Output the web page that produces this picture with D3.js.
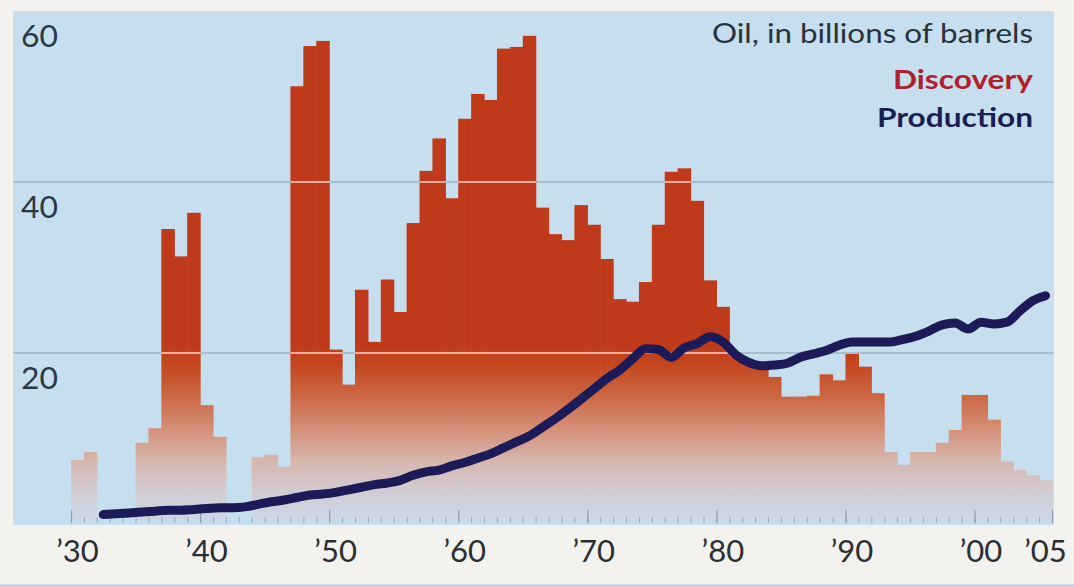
<!DOCTYPE html>
<html>
<head>
<meta charset="utf-8">
<script src="https://cdn.jsdelivr.net/npm/d3@7"></script>
<style>
  body { margin: 0; background: #f4f2ee; }
  svg { display: block; }
</style>
</head>
<body>
<div id="chart"></div>
<script>
// Descubrimientos y producción de petróleo, miles de millones de barriles

const firstYear = 1930;
const lastYear = 2005;
const years = d3.range(firstYear, lastYear + 1);

// 1930 .. 2005, 0 = sin barra
const discovery = [
  7.5, 8.4, 0, 0, 0, 9.5, 11.2, 34.5, 31.3, 36.4,
  13.9, 10.2, 0, 0, 7.8, 8.1, 6.7, 51.2, 55.9, 56.5,
  20.4, 16.3, 27.4, 21.3, 28.6, 24.8, 35.2, 41.3, 45.1, 38.1,
  47.4, 50.3, 49.6, 55.6, 55.8, 57.1, 37.0, 33.9, 33.2, 37.3,
  35.0, 31.0, 26.3, 26.0, 28.3, 35.0, 41.2, 41.6, 37.8, 28.5,
  25.4, 19.6, 19.0, 18.6, 17.2, 14.9, 14.9, 15.0, 17.5, 16.8,
  20.0, 18.4, 15.3, 8.4, 6.9, 8.4, 8.4, 9.5, 11.0, 15.1,
  15.1, 12.2, 7.3, 6.3, 5.7, 5.1
];

// 1932 .. 2005
const productionStart = 1932;
const production = [
  1.1, 1.2, 1.3, 1.4, 1.5, 1.6, 1.6, 1.7, 1.8, 1.9,
  1.9, 2.0, 2.3, 2.6, 2.8, 3.1, 3.4, 3.5, 3.7, 4.0,
  4.3, 4.6, 4.8, 5.1, 5.7, 6.1, 6.3, 6.8, 7.2, 7.7,
  8.2, 8.9, 9.6, 10.3, 11.3, 12.3, 13.4, 14.6, 15.8, 17.0,
  18.0, 19.3, 20.5, 20.4, 19.5, 20.6, 21.1, 21.9, 21.3, 19.8,
  18.9, 18.5, 18.6, 18.8, 19.5, 19.9, 20.3, 20.9, 21.3, 21.3,
  21.3, 21.3, 21.6, 22.0, 22.6, 23.3, 23.5, 22.8, 23.6, 23.4,
  23.6, 24.9, 26.1, 26.7
];

const yTicks = [20, 40, 60];
const gridValues = [20, 40];
const labelYears = [1930, 1940, 1950, 1960, 1970, 1980, 1990, 2000, 2005];
const decadeYears = [1930, 1940, 1950, 1960, 1970, 1980, 1990, 2000];

const fontFamily = "Lato, 'Open Sans', sans-serif";

function renderChart() {
    const width = 1074;
    const height = 587;
    const panel = { left: 13, right: 1054, top: 11, bottom: 525 };

    const svg = d3.select('#chart').append('svg')
        .attr('width', width)
        .attr('height', height);

    // Escalas
    const x = d3.scaleBand()
        .domain(years)
        .range([71, 1052])
        .padding(0);

    const xEdge = d3.scaleLinear()
        .domain([firstYear, lastYear + 1])
        .range([71, 1052]);

    const y = d3.scaleLinear()
        .domain([0, 60])
        .range([524, 11]);

    const defs = svg.append('defs');

    // Degradado de las barras
    const grad = defs.append('linearGradient')
        .attr('id', 'barGrad')
        .attr('gradientUnits', 'userSpaceOnUse')
        .attr('x1', 0).attr('x2', 0)
        .attr('y1', y(21)).attr('y2', y(0));
    [
        [0, '#bf3a1b'],
        [0.12, '#c4481f'],
        [0.3, '#cc6a47'],
        [0.48, '#d4927b'],
        [0.65, '#d6b7ae'],
        [0.82, '#d2ccd3'],
        [1, '#c9dbe9']
    ].forEach(([o, c]) => grad.append('stop').attr('offset', o).attr('stop-color', c));

    const barData = years.map((yr, i) => ({ year: yr, value: discovery[i] }))
        .filter(d => d.value > 0);

    const clip = defs.append('clipPath').attr('id', 'barClip');
    clip.selectAll('rect')
        .data(barData)
        .enter()
        .append('rect')
        .attr('x', d => x(d.year))
        .attr('y', d => y(d.value))
        .attr('width', x.bandwidth() + 0.6)
        .attr('height', d => y(0) - y(d.value));

    // Fondo
    svg.append('rect')
        .attr('x', panel.left)
        .attr('y', panel.top)
        .attr('width', panel.right - panel.left)
        .attr('height', panel.bottom - panel.top)
        .attr('fill', '#c7deee');

    // Líneas de referencia
    svg.append('g')
        .selectAll('line')
        .data(gridValues)
        .enter()
        .append('line')
        .attr('x1', panel.left)
        .attr('x2', panel.right)
        .attr('y1', d => y(d))
        .attr('y2', d => y(d))
        .attr('stroke', '#8f9eae')
        .attr('stroke-width', 1.2);

    // Barras
    svg.append('g')
        .selectAll('rect')
        .data(barData)
        .enter()
        .append('rect')
        .attr('x', d => x(d.year))
        .attr('y', d => y(d.value))
        .attr('width', x.bandwidth() + 0.6)
        .attr('height', d => y(0) - y(d.value))
        .attr('fill', 'url(#barGrad)');

    // Líneas claras sobre las barras
    svg.append('g')
        .attr('clip-path', 'url(#barClip)')
        .selectAll('line')
        .data(gridValues)
        .enter()
        .append('line')
        .attr('x1', panel.left)
        .attr('x2', panel.right)
        .attr('y1', d => y(d))
        .attr('y2', d => y(d))
        .attr('stroke', '#f6d6cc')
        .attr('stroke-width', 1.4);

    // Marcas de años
    const minor = svg.append('g')
        .attr('transform', `translate(0, ${panel.bottom - 2})`)
        .call(d3.axisTop(xEdge).tickValues(d3.range(firstYear, lastYear + 2)).tickSize(6).tickFormat(''));
    const major = svg.append('g')
        .attr('transform', `translate(0, ${panel.bottom - 2})`)
        .call(d3.axisTop(xEdge).tickValues(decadeYears.concat([2006])).tickSize(13).tickFormat(''));
    svg.selectAll('.domain').remove();
    minor.selectAll('.tick line').attr('stroke', '#97a7ba').attr('stroke-width', 1);
    major.selectAll('.tick line').attr('stroke', '#8e9fb3').attr('stroke-width', 1.2);

    // Producción
    const prodData = production.map((v, i) => ({ year: productionStart + i, value: v }));
    const line = d3.line()
        .x(d => x(d.year) + x.bandwidth() / 2)
        .y(d => y(d.value))
        .curve(d3.curveMonotoneX);

    svg.append('path')
        .datum(prodData)
        .attr('d', line)
        .attr('fill', 'none')
        .attr('stroke', '#1c1b58')
        .attr('stroke-width', 9)
        .attr('stroke-linejoin', 'round')
        .attr('stroke-linecap', 'round');

    // Eje Y (etiquetas dentro del panel)
    svg.append('g')
        .selectAll('text')
        .data(yTicks)
        .enter()
        .append('text')
        .attr('x', 21)
        .attr('y', d => y(d) + 36)
        .attr('fill', '#2b3945')
        .attr('font-family', fontFamily)
        .attr('font-size', '30px')
        .attr('textLength', 37)
        .attr('lengthAdjust', 'spacingAndGlyphs')
        .text(d => d);

    // Eje X
    const xAxis = svg.append('g')
        .attr('transform', `translate(0, ${panel.bottom})`)
        .call(d3.axisBottom(x).tickValues(labelYears).tickSize(0)
            .tickFormat(d => '\u2019' + String(d).slice(2)));
    xAxis.select('.domain').remove();
    xAxis.selectAll('text')
        .attr('dy', null)
        .attr('y', 37)
        .attr('fill', '#2b2f33')
        .attr('font-family', fontFamily)
        .attr('font-size', '31px');

    // Leyenda
    const legend = svg.append('g')
        .attr('text-anchor', 'end')
        .attr('font-family', fontFamily);

    legend.append('text')
        .attr('x', 1033)
        .attr('y', 43)
        .attr('fill', '#27323d')
        .attr('font-size', '26px')
        .attr('textLength', 321)
        .attr('lengthAdjust', 'spacingAndGlyphs')
        .text('Oil, in billions of barrels');

    legend.append('text')
        .attr('x', 1033)
        .attr('y', 89)
        .attr('fill', '#b01f2d')
        .attr('font-size', '26px')
        .attr('font-weight', 'bold')
        .attr('textLength', 140)
        .attr('lengthAdjust', 'spacingAndGlyphs')
        .text('Discovery');

    legend.append('text')
        .attr('x', 1033)
        .attr('y', 127)
        .attr('fill', '#1b1d57')
        .attr('font-size', '26px')
        .attr('font-weight', 'bold')
        .attr('textLength', 156)
        .attr('lengthAdjust', 'spacingAndGlyphs')
        .text('Production');

    // Línea del borde inferior (escaneo)
    svg.append('line')
        .attr('x1', 0).attr('x2', width)
        .attr('y1', 585.5).attr('y2', 585.5)
        .attr('stroke', '#cbc3ea')
        .attr('stroke-width', 2);
}

renderChart();
</script>
</body>
</html>
